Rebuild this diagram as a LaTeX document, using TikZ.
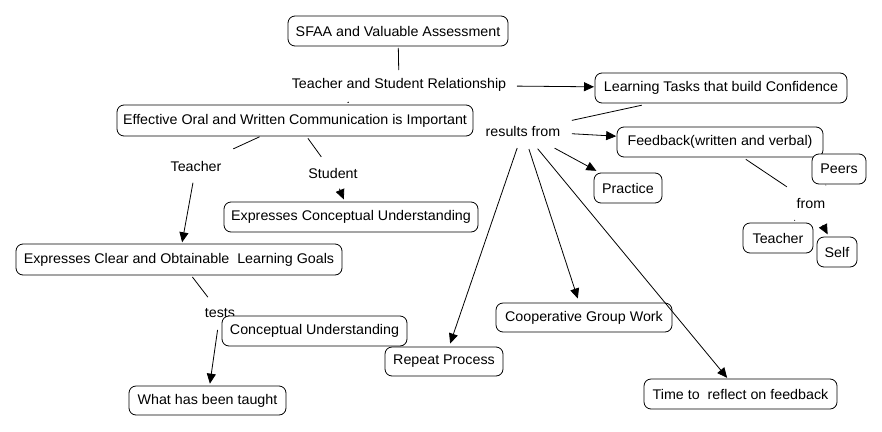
\documentclass[tikz,border=0pt]{standalone}
\usepackage{fontspec}
\setmainfont{Liberation Sans}[FakeStretch=1.02]
\usetikzlibrary{arrows.meta}
\begin{document}
\begin{tikzpicture}[x=1pt,y=-1pt,
  box/.style={draw=black,line width=0.8pt,rounded corners=7pt,fill=white,inner sep=0pt,align=center},
  lbl/.style={inner sep=1pt},
  conn/.style={draw=black,line width=0.8pt},
  arr/.style={conn,-{Triangle[length=10pt,width=9pt]}},
  every node/.style={font=\fontsize{14}{16}\selectfont}]
\useasboundingbox (0,0) rectangle (882,431);
% labels
\node[lbl] (tsr) at (399,85) {Teacher and Student Relationship};
\node[lbl] (rf) at (523,131) {results from};
\node[lbl] (frm) at (811,203) {from};
\node[lbl] (tl) at (196,166) {Teacher};
\node[lbl] (st) at (333,173) {Student};
\node[lbl] (tests) at (220,313) {tests};
% boxes
\node[box,minimum width=220pt,minimum height=30pt] (sfaa) at (398,31) {SFAA and Valuable Assessment};
\node[box,minimum width=252pt,minimum height=30pt] (lt) at (721,88) {Learning Tasks that build Confidence};
\node[box,minimum width=356pt,minimum height=31pt] (eo) at (295,120.5) {Effective Oral and Written Communication is Important};
\node[box,minimum width=206pt,minimum height=30pt] (fb) at (720,142) {Feedback(written and verbal)};
\node[box,minimum width=54pt,minimum height=30pt] (peers) at (839,169) {Peers};
\node[box,minimum width=68pt,minimum height=30pt] (pr) at (628,188) {Practice};
\node[box,minimum width=70pt,minimum height=30pt] (tr) at (778,238) {Teacher};
\node[box,minimum width=40pt,minimum height=30pt] (self) at (837,252) {Self};
\node[box,minimum width=254pt,minimum height=30pt] (ec) at (351,217) {Expresses Conceptual Understanding};
\node[box,minimum width=326pt,minimum height=31pt] (ecl) at (179,259.5) {Expresses Clear and Obtainable\ \ Learning Goals};
\node[box,minimum width=185pt,minimum height=30pt] (cu) at (314.5,331) {Conceptual Understanding};
\node[box,minimum width=118pt,minimum height=29pt] (rp) at (444,361.5) {Repeat Process};
\node[box,minimum width=157pt,minimum height=29pt] (what) at (207.5,400.5) {What has been taught};
\node[box,minimum width=176pt,minimum height=29pt] (coop) at (584,317.5) {Cooperative Group Work};
\node[box,minimum width=193pt,minimum height=30pt] (time) at (740.5,394) {Time to\ \ reflect on feedback};
% connectors
\draw[conn,shorten <=17pt,shorten >=15pt] (sfaa.center) -- (tsr.center);
\draw[arr,shorten <=118pt,shorten >=127pt] (tsr.center) -- (lt.center);
\draw[conn,shorten <=53pt,shorten >=55.5pt] (tsr.center) -- (eo.center);
\draw[conn,shorten <=81pt,shorten >=50pt] (lt.center) -- (rf.center);
\draw[arr,shorten <=49pt,shorten >=104pt] (rf.center) -- (fb.center);
\draw[arr,shorten <=36pt,shorten >=36pt] (rf.center) -- (pr.center);
\draw[arr,shorten <=18pt,shorten >=19pt] (rf.center) -- (rp.center);
\draw[arr,shorten <=19pt,shorten >=20pt] (rf.center) -- (coop.center);
\draw[arr,shorten <=23pt,shorten >=21pt] (rf.center) -- (time.center);
\draw[conn,shorten <=31pt,shorten >=29pt] (fb.center) -- (frm.center);
\draw[conn,shorten <=23pt,shorten >=20.5pt] (frm.center) -- (peers.center);
\draw[conn,shorten <=23.5pt,shorten >=24pt] (frm.center) -- (tr.center);
\draw[arr,shorten <=25pt,shorten >=20pt] (frm.center) -- (self.center);
\draw[conn,shorten <=39pt,shorten >=41pt] (eo.center) -- (tl.center);
\draw[conn,shorten <=22pt,shorten >=20pt] (eo.center) -- (st.center);
\draw[arr,shorten <=17pt,shorten >=17.5pt] (tl.center) -- (ecl.center);
\draw[arr,shorten <=17pt,shorten >=19pt] (st.center) -- (ec.center);
\draw[conn,shorten <=22pt,shorten >=20pt] (ecl.center) -- (tests.center);
\draw[arr,shorten <=17pt,shorten >=17pt] (tests.center) -- (what.center);
\end{tikzpicture}
\end{document}
